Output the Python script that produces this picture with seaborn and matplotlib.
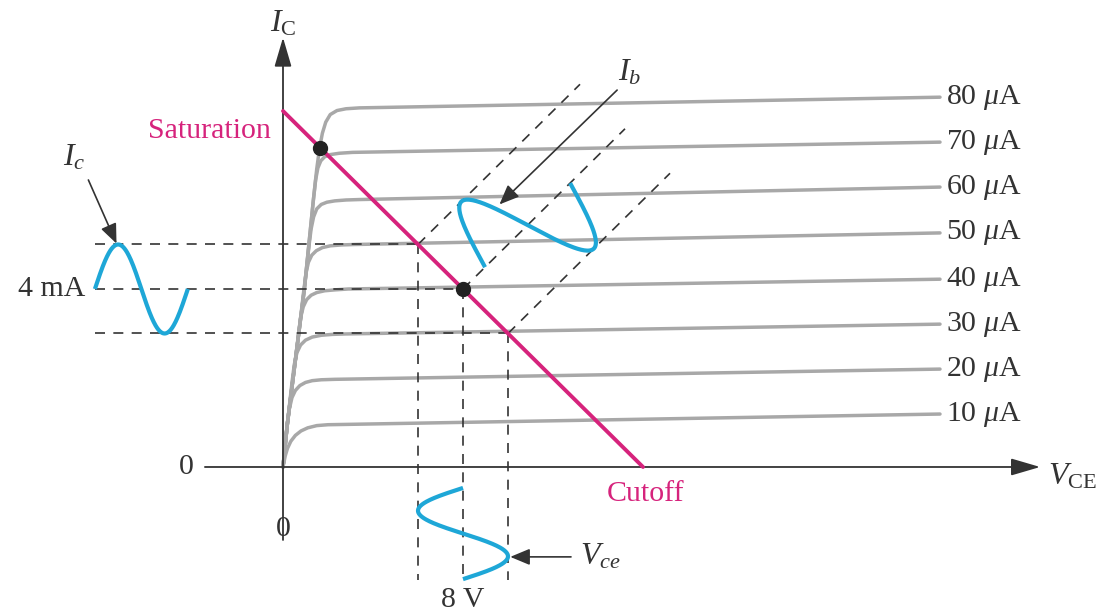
import numpy as np
import pandas as pd
import seaborn as sns
import matplotlib.pyplot as plt

# collector characteristic curves (V_CE in V, I_C in mA)
ib_levels = [10, 20, 30, 40, 50, 60, 70, 80]
curve_v = [
    [0, 0.1, 0.2, 0.35, 0.55, 0.8, 1.1, 1.5, 2.0, 29.2],
    [0, 0.15, 0.28, 0.4, 0.55, 0.75, 1.0, 1.3, 1.7, 2.3, 29.2],
    [0, 0.2, 0.4, 0.5, 0.62, 0.78, 1.0, 1.3, 1.7, 2.2, 2.8, 29.2],
    [0, 0.2, 0.45, 0.68, 0.78, 0.9, 1.05, 1.25, 1.5, 1.85, 2.3, 2.9, 29.2],
    [0, 0.2, 0.45, 0.7, 0.92, 1.02, 1.13, 1.28, 1.48, 1.75, 2.1, 2.6, 3.2,
     29.2],
    [0, 0.2, 0.45, 0.7, 0.95, 1.15, 1.25, 1.36, 1.5, 1.7, 1.95, 2.3, 2.8, 3.4,
     29.2],
    [0, 0.2, 0.45, 0.7, 0.95, 1.15, 1.35, 1.45, 1.55, 1.68, 1.85, 2.1, 2.5,
     3.1, 29.2],
    [0, 0.2, 0.45, 0.7, 0.95, 1.15, 1.35, 1.5, 1.62, 1.75, 1.9, 2.1, 2.4, 2.8,
     3.4, 29.2],
]
curve_i = [
    [0, 0.25, 0.42, 0.58, 0.71, 0.81, 0.88, 0.93, 0.95, 1.19],
    [0, 0.78, 1.3, 1.56, 1.72, 1.83, 1.9, 1.94, 1.96, 1.97, 2.2],
    [0, 1.0, 1.9, 2.3, 2.57, 2.74, 2.85, 2.92, 2.96, 2.98, 2.99, 3.21],
    [0, 1.0, 2.0, 2.95, 3.35, 3.6, 3.76, 3.86, 3.92, 3.96, 3.98, 4.0, 4.22],
    [0, 1.0, 2.0, 3.0, 3.95, 4.35, 4.6, 4.76, 4.86, 4.93, 4.97, 4.99, 5.0,
     5.26],
    [0, 1.0, 2.0, 3.0, 4.0, 4.95, 5.35, 5.62, 5.8, 5.9, 5.95, 5.98, 6.0, 6.01,
     6.29],
    [0, 1.0, 2.0, 3.0, 4.0, 5.0, 6.0, 6.45, 6.72, 6.88, 6.97, 7.02, 7.05,
     7.07, 7.30],
    [0, 1.0, 2.0, 3.0, 4.0, 5.0, 6.0, 6.7, 7.15, 7.5, 7.75, 7.92, 8.01, 8.05,
     8.07, 8.31],
]

# dc load line, Q point and saturation point
load_v = [0, 16]
load_i = [8, 0]
q_point = (8, 4)
sat_point = (1.65, 7.17)

# signal swing: Ib 40 +/- 10 uA, Ic 4 +/- 1 mA, Vce 8 +/- 2 V
swing_v = [6, 8, 10]
swing_i = [5, 4, 3]
ic_amp = 1.0
vce_amp = 2.0

GRAY = "#a8a8a8"
MAGENTA = "#d6237c"
CYAN = "#1ea7d7"
DARK = "#333333"

sns.set_theme(style="white")
plt.rcParams["font.family"] = ["Liberation Serif", "DejaVu Serif"]
plt.rcParams["mathtext.fontset"] = "custom"
plt.rcParams["mathtext.rm"] = "Liberation Serif"
plt.rcParams["mathtext.it"] = "Liberation Serif:italic"

fig = plt.figure(figsize=(11.17, 6.13), dpi=100)
ax = fig.add_axes([0, 0, 1, 1])
ax.set_xlim(-12.578, 37.067)
ax.set_ylim(-3.281, 10.494)
ax.set_axis_off()

# axes with arrows
arrow = dict(arrowstyle="-|>,head_length=0.75,head_width=0.22", color=DARK,
             lw=1.3, mutation_scale=24, shrinkA=0, shrinkB=0)
ax.annotate("", xy=(33.65, 0), xytext=(-3.47, 0), arrowprops=arrow)
ax.annotate("", xy=(0, 9.65), xytext=(0, -1.64), arrowprops=arrow)

# characteristic curves
df = pd.concat([pd.DataFrame({"Vce": v, "Ic": i, "Ib": ib})
                for ib, v, i in zip(ib_levels, curve_v, curve_i)])
sns.lineplot(data=df, x="Vce", y="Ic", units="Ib", estimator=None, sort=False,
             color=GRAY, lw=2.5, ax=ax, zorder=2)
for ib, i in zip(ib_levels, curve_i):
    ax.text(29.45, i[-1], r"%d $\mu$A" % ib, fontsize=21.5, ha="left",
            va="center", color=DARK)

# load line
sns.lineplot(x=load_v, y=load_i, color=MAGENTA, lw=2.8, ax=ax, zorder=4)

# projection dashes
dash = dict(color=DARK, lw=1.2, ls=(0, (6, 5)), zorder=3)
for v, i in zip(swing_v, swing_i):
    ax.plot([-8.36, v], [i, i], **dash)
    ax.plot([v, v], [i, -2.54], **dash)
    ax.plot([v, v + 7.2], [i, i + 3.6], **dash)

# Ic waveform (left)
t = np.linspace(0, 1, 200)
ax.plot(-8.36 + 4.13 * t, q_point[1] + ic_amp * np.sin(2 * np.pi * t),
        color=CYAN, lw=3, zorder=5, solid_capstyle="butt")
# Vce waveform (below)
ax.plot(q_point[0] - vce_amp * np.sin(2 * np.pi * t), -0.47 - 2.05 * t,
        color=CYAN, lw=3, zorder=5, solid_capstyle="butt")
# Ib waveform along the load line
s = 0.98 + 3.78 * t
amp = np.sin(2 * np.pi * t)
ax.plot(q_point[0] + s - 2 * amp, q_point[1] + 0.5 * s + amp,
        color=CYAN, lw=3, zorder=5, solid_capstyle="butt")

# operating points
ax.plot(*q_point, "o", color="#222222", ms=10, zorder=6)
ax.plot(*sat_point, "o", color="#222222", ms=10, zorder=6)

# pointer arrows
small = dict(arrowstyle="-|>,head_length=0.6,head_width=0.25", color=DARK,
             lw=1.2, mutation_scale=20, shrinkA=0, shrinkB=0)
ax.annotate("", xy=(-7.4, 5.02), xytext=(-8.65, 6.45), arrowprops=small)
ax.annotate("", xy=(9.62, 5.9), xytext=(14.85, 8.47), arrowprops=small)
ax.annotate("", xy=(10.1, -2.02), xytext=(12.8, -2.02), arrowprops=small)

# labels
fs = 21.5
ax.text(-0.55, 7.55, "Saturation", color=MAGENTA, fontsize=fs, ha="right",
        va="center")
ax.text(16.1, -0.6, "Cutoff", color=MAGENTA, fontsize=fs, ha="center",
        va="center")
ax.text(-8.8, 4.0, "4 mA", color=DARK, fontsize=fs, ha="right", va="center")
ax.text(-4.3, 0.0, "0", color=DARK, fontsize=fs, ha="center", va="center")
ax.text(0.0, -1.4, "0", color=DARK, fontsize=fs, ha="center", va="center")
ax.text(8.0, -3.0, "8 V", color=DARK, fontsize=fs, ha="center", va="center")
ax.text(0.0, 9.95, r"$I_{\mathrm{C}}$", color=DARK, fontsize=23,
        ha="center", va="center")
ax.text(34.0, -0.22, r"$V_{\mathrm{CE}}$", color=DARK, fontsize=23,
        ha="left", va="center")
ax.text(15.4, 8.85, r"$I_b$", color=DARK, fontsize=23, ha="center",
        va="center")
ax.text(-9.3, 6.95, r"$I_c$", color=DARK, fontsize=23, ha="center",
        va="center")
ax.text(13.2, -2.02, r"$V_{ce}$", color=DARK, fontsize=23, ha="left",
        va="center")

fig.savefig("out.png", dpi=100, facecolor="white")
